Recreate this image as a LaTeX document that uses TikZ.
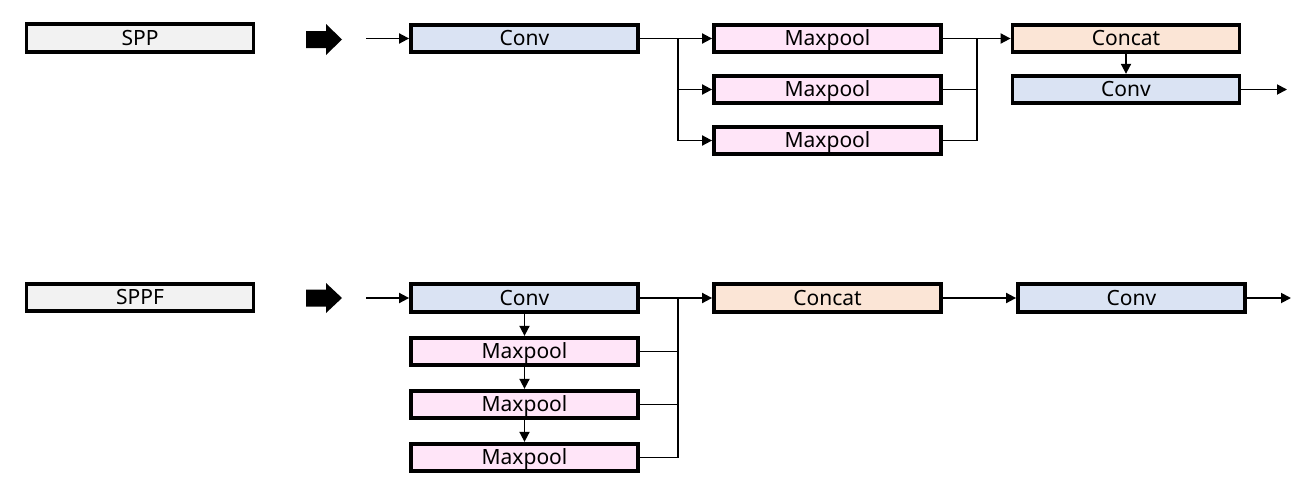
\documentclass[tikz,border=0pt]{standalone}
\usepackage{fontspec}
\setmainfont{Noto Sans}
\usetikzlibrary{arrows.meta}
\definecolor{convc}{HTML}{DAE3F3}
\definecolor{catc}{HTML}{FBE5D6}
\definecolor{poolc}{HTML}{FFE5F8}
\definecolor{sppc}{HTML}{F2F2F2}
\tikzset{
  blk/.style={draw=black, line width=3.8pt, minimum width=227pt, minimum height=27.5pt, inner sep=0pt, text height=14.5pt, text depth=0pt, font=\fontsize{21}{22}\selectfont},
  convbox/.style={blk, fill=convc},
  catbox/.style={blk, fill=catc},
  poolbox/.style={blk, fill=poolc},
  titlebox/.style={blk, fill=sppc},
  conn/.style={line width=1.8pt},
  arr/.style={conn, -{Triangle[length=10pt,width=10pt]}},
  bigarrow/.style={fill=black}
}
\begin{document}
\begin{tikzpicture}[x=1pt,y=-1pt]
\useasboundingbox (0,0) rectangle (1312,493);
% ---------- SPP ----------
\node[titlebox] (spp) at (140,38) {SPP};
\fill[bigarrow] (306,31) -- (326,31) -- (326,24) -- (342,39.5) -- (326,55) -- (326,48) -- (306,48) -- cycle;
\coordinate (in1) at (366,38.5);
\node[convbox] (conv1) at (524.5,38.5) {Conv};
\node[poolbox] (p1) at (827.5,38.5) {Maxpool};
\node[poolbox] (p2) at (827.5,89.5) {Maxpool};
\node[poolbox] (p3) at (827.5,140.5) {Maxpool};
\node[catbox] (cat1) at (1126,38.5) {Concat};
\node[convbox] (conv2) at (1126,89.5) {Conv};
\coordinate (b1) at (678,38.5);
\coordinate (m1) at (977,38.5);
\coordinate (out1) at (1287,89.5);
\draw[arr] (in1) -- (conv1.west);
\draw[arr] (conv1.east) -- (p1.west);
\draw[arr] (b1) |- (p2.west);
\draw[arr] (b1) |- (p3.west);
\draw[arr] (p1.east) -- (cat1.west);
\draw[conn] (p2.east) -| (m1);
\draw[conn] (p3.east) -| (m1);
\draw[arr] (cat1.south) -- (conv2.north);
\draw[arr] (conv2.east) -- (out1);
% ---------- SPPF ----------
\node[titlebox] (sppf) at (140,297.5) {SPPF};
\fill[bigarrow] (306,289.5) -- (326,289.5) -- (326,283) -- (342,298) -- (326,313) -- (326,306.5) -- (306,306.5) -- cycle;
\coordinate (in2) at (366,298);
\node[convbox] (conv3) at (524.5,298) {Conv};
\node[poolbox] (q1) at (524.5,351.5) {Maxpool};
\node[poolbox] (q2) at (524.5,404.5) {Maxpool};
\node[poolbox] (q3) at (524.5,457.5) {Maxpool};
\node[catbox] (cat2) at (827.5,298) {Concat};
\node[convbox] (conv4) at (1131.5,298) {Conv};
\coordinate (m2) at (678,298);
\coordinate (out2) at (1291,298);
\draw[arr] (in2) -- (conv3.west);
\draw[arr] (conv3.south) -- (q1.north);
\draw[arr] (q1.south) -- (q2.north);
\draw[arr] (q2.south) -- (q3.north);
\draw[arr] (conv3.east) -- (cat2.west);
\draw[conn] (q1.east) -| (m2);
\draw[conn] (q2.east) -| (m2);
\draw[conn] (q3.east) -| (m2);
\draw[arr] (cat2.east) -- (conv4.west);
\draw[arr] (conv4.east) -- (out2);
\end{tikzpicture}
\end{document}
